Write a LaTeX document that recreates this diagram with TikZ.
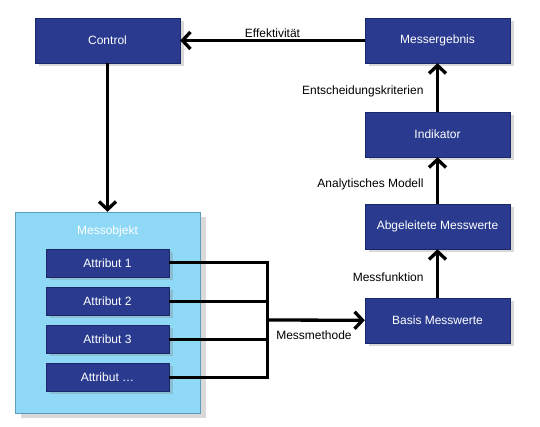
\documentclass[tikz,border=0pt]{standalone}
\usepackage{fontspec}
\setmainfont{Liberation Sans}
\usetikzlibrary{arrows.meta,shadows}
\definecolor{MBlue}{HTML}{2A3B8F}
\definecolor{MBlueDark}{HTML}{1C2768}
\definecolor{MSky}{HTML}{8FD9F7}
\definecolor{MSkyDark}{HTML}{5B9DBB}
\tikzset{
    block/.style = {draw=MBlueDark, fill=MBlue, rectangle, text=white,
        minimum height=45pt, minimum width=145pt, align=center,
        drop shadow={shadow xshift=4pt, shadow yshift=-3pt, opacity=.3}},
    attr/.style = {block, minimum height=28pt, minimum width=123pt},
    container/.style = {draw=MSkyDark, fill=MSky, rectangle,
        minimum width=185pt, minimum height=201pt,
        drop shadow={shadow xshift=6pt, shadow yshift=-5pt, opacity=.3}},
    title/.style = {text=white},
    input/.style = {coordinate},
    arrow/.style = {draw, line width=3.3pt, -{Straight Barb[length=8pt,width=17pt]}},
    bus/.style = {draw, line width=3pt}
}

\begin{document}
\begin{tikzpicture}[x=1pt, y=-1pt, node distance=94pt, font=\fontsize{12}{14}\selectfont]
        \useasboundingbox (0,0) rectangle (540,427);
        % right column
        \node [block] (erg) at (437.5,40.5) {Messergebnis};
        \node [block, below of=erg] (ind) {Indikator};
        \node [block, below of=ind, node distance=92pt] (abg) {Abgeleitete Messwerte};
        \node [block, below of=abg] (basis) {Basis Messwerte};
        % left column
        \node [block] (ctrl) at (107.5,40.5) {Control};
        \node [container] (mobj) at (107.5,312.5) {};
        \node [title, yshift=-20pt] (mtitle) at (mobj.north) {Messobjekt};
        \node [attr] (att1) at (107.5,263) {Attribut 1};
        \foreach \a/\t [evaluate=\a as \prev using int(\a-1)] in {2/2,3/3,4/…}{
            \node [attr, below of=att\prev, node distance=38pt] (att\a) {Attribut \t};
        }
        \node [input] (bus) at (267,320) {};
        % connections
        \draw [bus] (att1.east) -- (att1 -| bus) -- (att4 -| bus) -- (att4.east);
        \foreach \a in {2,3}{
            \draw [bus] (att\a.east) -- (att\a -| bus);
        }
        \draw [arrow] (bus) -- node[pos=.48, below=6pt] {Messmethode} (basis);
        \draw [arrow] (basis) -- node[pos=.42, left=9pt] {Messfunktion} (abg);
        \draw [arrow] (abg) -- node[pos=.42, left=9pt] {Analytisches Modell} (ind);
        \draw [arrow] (ind) -- node[pos=.41, left=9pt] {Entscheidungskriterien} (erg);
        \draw [arrow] (erg) -- node[above, inner sep=1pt] {Effektivität} (ctrl);
        \draw [arrow] (ctrl) -- (mobj);
\end{tikzpicture}
\end{document}
